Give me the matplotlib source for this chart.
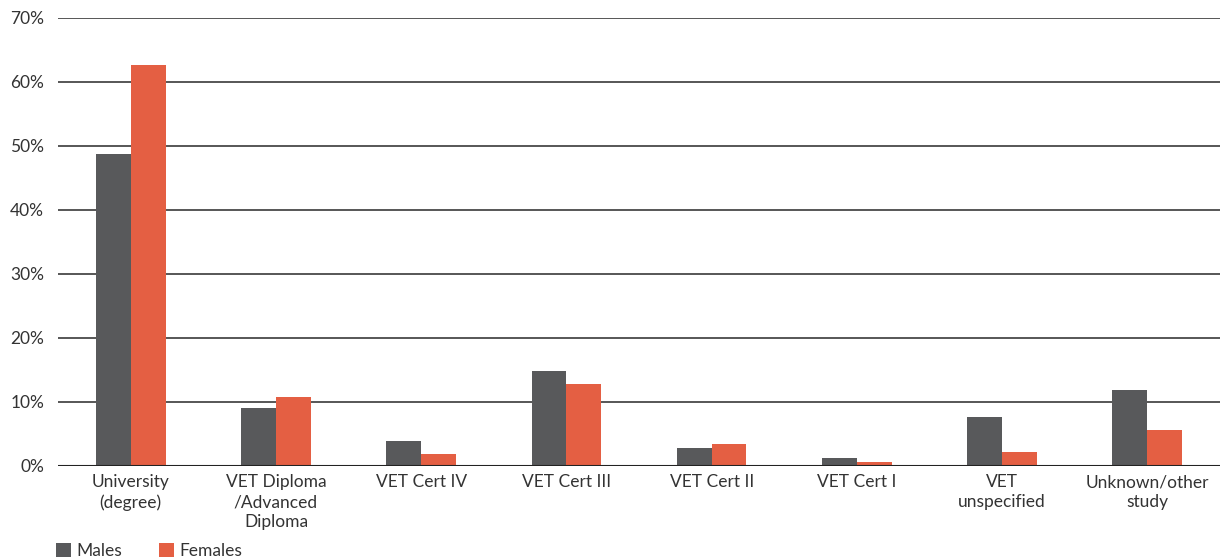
import numpy as np
import matplotlib.pyplot as plt
from matplotlib.ticker import PercentFormatter

# ============================================
# Highest qualification by sex
# ============================================

categories = ["University\n(degree)", "VET Diploma\n/Advanced\nDiploma", "VET Cert IV",
              "VET Cert III", "VET Cert II", "VET Cert I", "VET\nunspecified",
              "Unknown/other\nstudy"]
males = [48.8, 9.1, 3.9, 14.8, 2.8, 1.25, 7.7, 11.9]
females = [62.7, 10.8, 1.9, 12.8, 3.4, 0.6, 2.2, 5.6]

plt.rcParams["font.family"] = ["Lato", "DejaVu Sans"]

fig = plt.figure(figsize=(12.23, 5.6), dpi=100)
ax = fig.add_axes([0.0475, 0.168, 0.950, 0.8])

x = np.arange(len(categories))
w = 0.24
ax.bar(x - w / 2, males, w, color="#58595b", label="Males", zorder=3)
ax.bar(x + w / 2, females, w, color="#e45f43", label="Females", zorder=3)

ax.set_xlim(-0.5, len(categories) - 0.5)
ax.set_ylim(0, 70)
ax.set_yticks(range(0, 71, 10))
ax.yaxis.set_major_formatter(PercentFormatter(decimals=0))
ax.grid(axis="y", color="#3a3a3a", linewidth=1.2, zorder=0)
ax.axhline(0, color="#222222", linewidth=1.5, zorder=4)

for s in ax.spines.values():
    s.set_visible(False)
ax.tick_params(axis="y", length=0, pad=10, labelsize=12.5, labelcolor="#333333")
ax.tick_params(axis="x", length=0, pad=6, labelsize=12.5, labelcolor="#333333")
ax.set_xticks(x)
ax.set_xticklabels(categories, linespacing=1.3, va="top")

fig.legend(loc="lower left", bbox_to_anchor=(0.033, -0.026), ncol=2, frameon=False,
           fontsize=12.5, handlelength=0.85, handleheight=0.85, handletextpad=0.35,
           columnspacing=2.1, labelcolor="#333333")

fig.savefig("out.png", dpi=100)
